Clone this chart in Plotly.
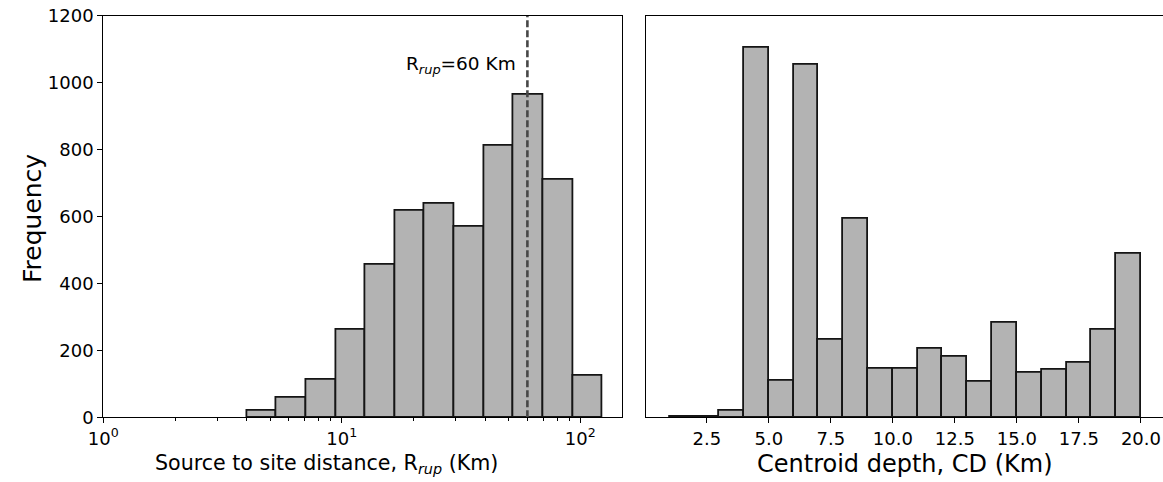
import numpy as np
import plotly.graph_objects as go

# ---- Rupture distance histogram (log-spaced bins, km) ----
rrup_edges = [4.0, 5.33, 7.09, 9.44, 12.56, 16.72, 22.26, 29.64, 39.46, 52.53, 69.93, 93.1, 124.0]
rrup_counts = [21, 60, 112, 263, 456, 617, 639, 569, 812, 964, 709, 124]
rrup_cut = 60  # km

# ---- Centroid depth histogram (1 km bins) ----
cd_edges = list(range(1, 21))
cd_counts = [1, 1, 19, 1105, 110, 1053, 233, 592, 144, 144, 204, 180, 107, 283, 132, 141, 163, 262, 489]

y_ticks = [0, 200, 400, 600, 800, 1000, 1200]
x1_ticks = [1, 10, 100]
x1_ticktext = ["10<sup>0</sup>", "10<sup>1</sup>", "10<sup>2</sup>"]
x1_minor = [2, 3, 4, 5, 6, 7, 8, 9, 20, 30, 40, 50, 60, 70, 80, 90]
x2_ticks = [2.5, 5.0, 7.5, 10.0, 12.5, 15.0, 17.5, 20.0]

W, H = 1163, 482
FONT = "DejaVu Sans"
BAR_FILL = "#b3b3b3"
BAR_EDGE = "#151515"


def px_x(p):
    return p / W


def px_y(p):
    return 1 - p / H


r_left = np.array(rrup_edges[:-1])
r_right = np.array(rrup_edges[1:])
c_left = np.array(cd_edges[:-1])
c_right = np.array(cd_edges[1:])

fig = go.Figure()

fig.add_trace(go.Bar(
    x=(r_left + r_right) / 2, y=rrup_counts, width=r_right - r_left,
    marker=dict(color=BAR_FILL, line=dict(color=BAR_EDGE, width=1.8)),
    xaxis="x", yaxis="y", hoverinfo="skip", showlegend=False,
))

fig.add_trace(go.Scatter(
    x=[rrup_cut, rrup_cut], y=[0, 1200], mode="lines",
    line=dict(color="#474747", width=2.6, dash="7px,3px"),
    xaxis="x", yaxis="y", hoverinfo="skip", showlegend=False,
))

fig.add_trace(go.Bar(
    x=(c_left + c_right) / 2, y=cd_counts, width=c_right - c_left,
    marker=dict(color=BAR_FILL, line=dict(color=BAR_EDGE, width=1.8)),
    xaxis="x2", yaxis="y2", hoverinfo="skip", showlegend=False,
))

y_dom = [px_y(417.3), px_y(15.7)]
axis_common = dict(showline=True, linecolor="black", linewidth=1.2, mirror=True,
                   showgrid=False, zeroline=False, automargin=False,
                   tickfont=dict(family=FONT, size=18, color="black"),
                   ticks="outside", tickcolor="black", ticklen=5, tickwidth=1.1)

fig.update_layout(
    width=W, height=H,
    margin=dict(l=0, r=0, t=0, b=0, pad=0, autoexpand=False),
    paper_bgcolor="white", plot_bgcolor="white",
    bargap=0,
    xaxis=dict(axis_common, type="log", domain=[px_x(103.3), px_x(622.3)],
               range=[0, np.log10(150)], anchor="y",
               tickmode="array", tickvals=x1_ticks, ticktext=x1_ticktext,
               minor=dict(ticks="outside", ticklen=3, tickcolor="black", tickwidth=0.9,
                          tickmode="array", tickvals=x1_minor)),
    yaxis=dict(axis_common, domain=y_dom, range=[0, 1200], anchor="x",
               tickmode="array", tickvals=y_ticks),
    xaxis2=dict(axis_common, domain=[px_x(646.0), 1.0], range=[0.05, 20.89], anchor="y2",
                tickmode="array", tickvals=x2_ticks, ticktext=[f"{v:.1f}" for v in x2_ticks]),
    yaxis2=dict(axis_common, domain=y_dom, range=[0, 1200], anchor="x2",
                showticklabels=False, ticks=""),
)

fig.add_annotation(text="Frequency", textangle=-90, xref="paper", yref="paper",
                   x=px_x(33), y=px_y(219), xanchor="center", yanchor="middle",
                   showarrow=False, font=dict(family=FONT, size=25, color="black"))
fig.add_annotation(text="Source to site distance, R<sub><i>rup</i></sub> (Km)",
                   xref="paper", yref="paper", x=px_x(326), y=px_y(464),
                   xanchor="center", yanchor="middle",
                   showarrow=False, font=dict(family=FONT, size=20.6, color="black"))
fig.add_annotation(text="Centroid depth, CD (Km)", xref="paper", yref="paper",
                   x=px_x(905), y=px_y(464), xanchor="center", yanchor="middle",
                   showarrow=False, font=dict(family=FONT, size=24, color="black"))
fig.add_annotation(text="R<sub><i>rup</i></sub>=60 Km", xref="x", yref="y",
                   x=np.log10(rrup_cut), y=1052, xanchor="right", xshift=-9,
                   showarrow=False, font=dict(family=FONT, size=18.5, color="black"))

fig.write_html("out.html")
